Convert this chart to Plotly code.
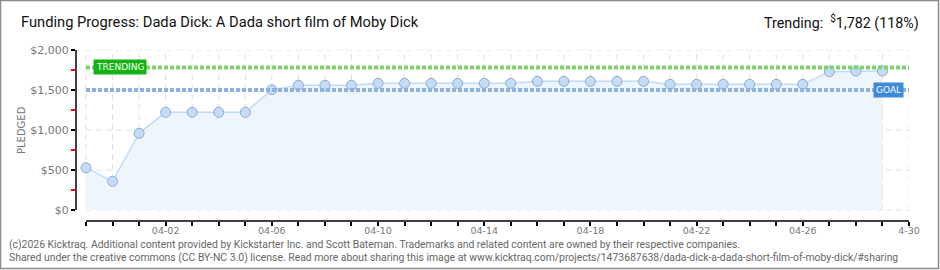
import plotly.graph_objects as go
import pandas as pd

# ---- data ----
dates = pd.date_range("2026-03-30", "2026-04-29", freq="D")
pledged = [529, 358, 958, 1221, 1221, 1221, 1221, 1504, 1558, 1558, 1558,
           1583, 1583, 1583, 1583, 1583, 1583,
           1608, 1608, 1608, 1608, 1608,
           1571, 1571, 1571, 1571, 1571, 1571,
           1729, 1737, 1737]
goal = 1500
trending = 1782
end_date = pd.Timestamp("2026-04-30")
y_ticks = [0, 500, 1000, 1500, 2000]
y_ticktext = ["$0", "$500", "$1,000", "$1,500", "$2,000"]
y_minor = [250, 750, 1250, 1750]
label_every = 4

title_text = "Funding Progress: Dada Dick: A Dada short film of Moby Dick"
trend_text = "Trending:  <sup>$</sup>1,782 (118%)"
footer1 = ("(c)2026 Kicktraq. Additional content provided by Kickstarter Inc. and Scott Bateman. "
           "Trademarks and related content are owned by their respective companies.")
footer2 = ("Shared under the creative commons (CC BY-NC 3.0) license. Read more about sharing this image at "
           "www.kicktraq.com/projects/1473687638/dada-dick-a-dada-short-film-of-moby-dick/#sharing")

# ---- layout geometry (pixels) ----
W, H = 940, 270
L, R, T, B = 76, 909, 50, 221
PW, PH = R - L, B - T
px_per_day = (909 - 86) / 31.0
px_per_unit = 160 / 2000.0


def xp(px):
    return (px - L) / PW


def yp(py):
    return (B - py) / PH


x_start = dates[0] - pd.Timedelta(days=(86 - L) / px_per_day)
y_bottom = -(B - 210) / px_per_unit

tick_dates = list(dates) + [end_date]
tick_text = []
for i, d in enumerate(tick_dates):
    if i % label_every == 3:
        tick_text.append(d.strftime("%m-%d"))
    else:
        tick_text.append("")
tick_text[-1] = "4-30"

FONT = "Roboto, sans-serif"
PIX = "DejaVu Sans, sans-serif"

fig = go.Figure()
fig.add_trace(go.Scatter(
    x=dates, y=pledged, mode="lines+markers",
    line=dict(color="#c0dbf6", width=1.5),
    fill="tozeroy", fillcolor="#eef5fd",
    marker=dict(size=10, color="#c3ddf8", line=dict(color="#90a8c8", width=1)),
    hoverinfo="skip", showlegend=False,
))

shapes = []
grid = dict(color="#e0e0e0", width=1, dash="6px,4px")
for d in tick_dates:
    shapes.append(dict(type="line", xref="x", yref="y", x0=d, x1=d, y0=0, y1=2000,
                       line=grid, layer="below"))
for v in y_ticks:
    shapes.append(dict(type="line", xref="x", yref="y", x0=dates[0], x1=end_date, y0=v, y1=v,
                       line=grid, layer="below"))
# goal / trending lines
shapes.append(dict(type="line", xref="x", yref="y", x0=dates[0], x1=end_date, y0=goal, y1=goal,
                   line=dict(color="#8cb2e0", width=4, dash="4px,2px")))
shapes.append(dict(type="line", xref="x", yref="y", x0=dates[0], x1=end_date, y0=trending, y1=trending,
                   line=dict(color="#7fd26e", width=4, dash="4px,2px")))
# axes lines
shapes.append(dict(type="line", xref="paper", yref="y", x0=0, x1=0, y0=0, y1=2000,
                   line=dict(color="black", width=1.5)))
shapes.append(dict(type="line", xref="x", yref="paper", x0=dates[0], x1=end_date, y0=0, y1=0,
                   line=dict(color="black", width=1.5)))
# outer frame
shapes.append(dict(type="rect", xref="paper", yref="paper",
                   x0=xp(0.5), x1=xp(938.5), y0=yp(268.5), y1=yp(0.5),
                   line=dict(color="#8a8a8a", width=1.5)))

annotations = [
    dict(text=title_text, xref="paper", yref="paper", x=xp(19), y=yp(22),
         xanchor="left", yanchor="middle", showarrow=False,
         font=dict(family=FONT, size=14.7, color="#111")),
    dict(text=trend_text, xref="paper", yref="paper", x=xp(921), y=yp(22),
         xanchor="right", yanchor="middle", showarrow=False,
         font=dict(family=FONT, size=14.3, color="#111")),
    dict(text=footer1, xref="paper", yref="paper", x=xp(7), y=yp(244),
         xanchor="left", yanchor="middle", showarrow=False,
         font=dict(family=FONT, size=10.4, color="#666")),
    dict(text=footer2, xref="paper", yref="paper", x=xp(7), y=yp(257),
         xanchor="left", yanchor="middle", showarrow=False,
         font=dict(family=FONT, size=10.4, color="#666")),
    dict(text="PLEDGED", xref="paper", yref="paper", x=xp(21), y=yp(130),
         xanchor="center", yanchor="middle", textangle=-90, showarrow=False,
         font=dict(family=PIX, size=10, color="#777")),
    dict(text="TRENDING", xref="paper", yref="y", x=xp(93), y=trending,
         xanchor="left", yanchor="middle", showarrow=False,
         bgcolor="#13b313", borderpad=2,
         font=dict(family=PIX, size=9, color="white")),
    dict(text="GOAL", xref="paper", yref="y", x=xp(888), y=goal,
         xanchor="center", yanchor="middle", showarrow=False,
         bgcolor="#3c89d8", borderpad=2,
         font=dict(family=PIX, size=9, color="white")),
]

fig.update_layout(
    width=W, height=H, margin=dict(l=L, r=W - R, t=T, b=H - B),
    paper_bgcolor="white", plot_bgcolor="white",
    shapes=shapes, annotations=annotations,
    xaxis=dict(range=[x_start, end_date], tickmode="array", tickvals=tick_dates, ticktext=tick_text,
               showgrid=False, zeroline=False, showline=False,
               ticks="outside", ticklen=4, tickcolor="black", tickwidth=1.5,
               ticklabelstandoff=-3,
               tickfont=dict(family=PIX, size=9.5, color="#777")),
    yaxis=dict(range=[y_bottom, 2000], tickmode="array", tickvals=y_ticks, ticktext=y_ticktext,
               showgrid=False, zeroline=False, showline=False,
               ticks="outside", ticklen=4, tickcolor="black", tickwidth=1.5,
               minor=dict(tickmode="array", tickvals=y_minor, ticks="outside", ticklen=4,
                          tickcolor="red", tickwidth=1.5),
               tickfont=dict(family=PIX, size=11, color="#777")),
)

fig.write_html("out.html")
